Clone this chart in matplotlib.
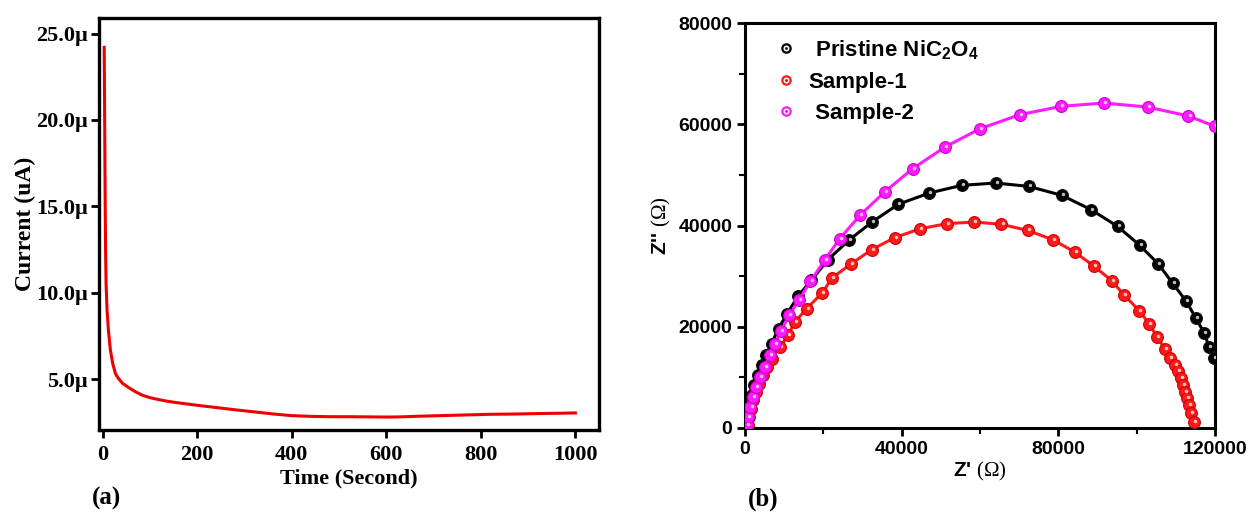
import matplotlib
matplotlib.use("Agg")
import matplotlib.pyplot as plt
from matplotlib.ticker import FuncFormatter, MultipleLocator
from matplotlib.lines import Line2D
from matplotlib.transforms import offset_copy

plt.rcParams['mathtext.fontset'] = 'custom'
plt.rcParams['mathtext.rm'] = 'Liberation Serif'
plt.rcParams['mathtext.sf'] = 'Liberation Sans:bold'
plt.rcParams['mathtext.bf'] = 'Liberation Sans:bold'

# ---------------- data: panel (a) chronoamperometry ----------------
time_s = [3, 4, 5, 6, 7, 9, 12, 16, 21, 27, 34, 42, 55, 70, 85, 100, 120, 140,
          160, 180, 200, 240, 280, 320, 360, 400, 440, 480, 520, 560, 600, 630,
          660, 700, 740, 780, 820, 860, 900, 940, 970, 1000]
current_uA = [24.2, 20.0, 15.5, 12.3, 10.5, 9.0, 7.8, 6.7, 5.9, 5.3, 5.0, 4.75,
              4.5, 4.25, 4.05, 3.92, 3.8, 3.7, 3.62, 3.55, 3.48, 3.35, 3.22, 3.1,
              2.98, 2.88, 2.84, 2.82, 2.82, 2.81, 2.80, 2.81, 2.84, 2.87, 2.9,
              2.93, 2.96, 2.97, 2.99, 3.01, 3.02, 3.04]
a_xticks = [0, 200, 400, 600, 800, 1000]
a_yticks = [5, 10, 15, 20, 25]

# ---------------- data: panel (b) Nyquist plots ----------------
pristine_re = [300, 600, 1090, 1690, 2390, 3280, 4280, 5370, 6770, 8560, 10750,
               13530, 16920, 21190, 26470, 32440, 39100, 47060, 55320, 63980,
               72430, 80890, 88350, 95120, 100790, 105530, 109200, 112600,
               115150, 117190, 118550, 119740]
pristine_im = [860, 2500, 4480, 6450, 8430, 10400, 12380, 14350, 16660, 19620,
               22580, 26010, 29170, 33250, 37070, 40690, 44180, 46420, 47930,
               48390, 47730, 45960, 43130, 39830, 36080, 32400, 28580, 25090,
               21660, 18830, 15940, 13770]

sample1_re = [700, 1000, 1490, 2090, 2790, 3580, 4580, 5570, 6770, 8960, 10950,
              12740, 15720, 19700, 22290, 27160, 32340, 38210, 44780, 51540,
              58510, 65470, 72140, 78600, 84180, 89150, 93620, 96770, 100680,
              103230, 105270, 107230, 108510, 109690, 110540, 111220, 111810,
              112410, 112840, 113350, 113960, 114640]
sample1_im = [530, 2170, 3820, 5460, 7110, 8760, 10400, 12050, 13700, 16000,
              18300, 20940, 23570, 26670, 29690, 32460, 35220, 37600, 39370,
              40360, 40690, 40230, 39040, 37200, 34760, 31930, 29100, 26270,
              23170, 20540, 17920, 15600, 13770, 12440, 11320, 9820, 8490, 7170,
              5870, 4540, 2900, 1240]

sample2_re = [400, 800, 1390, 1990, 2790, 3780, 4980, 6270, 7560, 9250, 11240,
              13830, 16720, 20300, 24180, 29350, 35620, 42790, 50940, 60000,
              70150, 80690, 91640, 102780, 113230, 120000]
sample2_im = [530, 2170, 4150, 6120, 8100, 10070, 12050, 14350, 16660, 19160,
              22250, 25350, 28970, 33120, 37400, 42000, 46610, 51220, 55440,
              59120, 61890, 63540, 64190, 63400, 61630, 59580]

series_labels = [r" Pristine NiC$_{\mathsf{2}}$O$_{\mathsf{4}}$", "Sample-1", " Sample-2"]
series_colors = ["black", "#ff1a1a", "#ff1aff"]
edge_colors = ["#111111", "#cc0000", "#cc00cc"]
b_xticks = [0, 40000, 80000, 120000]
b_yticks = [0, 20000, 40000, 60000, 80000]

W, H = 1249, 512
fig = plt.figure(figsize=(W / 100, H / 100), dpi=100)

# ---------------- panel (a) ----------------
axa = fig.add_axes([99 / W, 1 - 430 / H, 500 / W, 412 / H])
axa.plot(time_s, current_uA, color="#ee0000", lw=2.2, solid_joinstyle="round")
axa.set_xlim(-8, 1050)
axa.set_ylim(2.05, 25.9)
axa.set_xticks(a_xticks)
axa.set_yticks(a_yticks)
axa.yaxis.set_major_formatter(FuncFormatter(lambda v, p: f"{v:.1f}\u00b5"))
serif = "Liberation Serif"
for lab in axa.get_xticklabels() + axa.get_yticklabels():
    lab.set_fontfamily(serif)
    lab.set_fontweight("bold")
    lab.set_fontsize(16)
axa.tick_params(direction="out", length=6, width=2, pad=2)
axa.tick_params(axis="x", pad=5)
for s in axa.spines.values():
    s.set_linewidth(2.4)
axa.set_xlabel("Time (Second)", fontfamily=serif, fontweight="bold", fontsize=16, labelpad=2)
axa.set_ylabel("Current (uA)", fontfamily=serif, fontweight="bold", fontsize=17, labelpad=0)
fig.text(107 / W, 1 - 498 / H, "(a)", fontfamily=serif, fontweight="bold",
         fontsize=18, ha="center", va="center")

# ---------------- panel (b) ----------------
axb = fig.add_axes([745 / W, 1 - 428 / H, 470 / W, 405 / H])
sans = "Liberation Sans"
data_b = [(sample1_re, sample1_im, 1), (pristine_re, pristine_im, 0), (sample2_re, sample2_im, 2)]
for xs, ys, i in data_b:
    axb.plot(xs, ys, color=series_colors[i], lw=2.2, marker="o", ms=8.5,
             mfc=series_colors[i], mec=edge_colors[i], mew=0.8, zorder=3 + i, clip_on=True)
    hl = offset_copy(axb.transData, fig=fig, x=0.8, y=0.8, units="points")
    axb.plot(xs, ys, ls="none", marker="o", ms=2.5, mfc="white", mec="none",
             alpha=0.75, transform=hl, zorder=3.5 + i)
axb.set_xlim(0, 120000)
axb.set_ylim(0, 80000)
axb.set_xticks(b_xticks)
axb.set_yticks(b_yticks)
axb.xaxis.set_minor_locator(MultipleLocator(20000))
axb.yaxis.set_minor_locator(MultipleLocator(10000))
for lab in axb.get_xticklabels() + axb.get_yticklabels():
    lab.set_fontfamily(sans)
    lab.set_fontweight("bold")
    lab.set_fontsize(14)
axb.tick_params(which="major", direction="out", length=6, width=2, pad=3)
axb.tick_params(which="minor", direction="out", length=4, width=1.5)
for s in axb.spines.values():
    s.set_linewidth(2.2)
axb.set_xlabel(r"Z' $\mathrm{(\Omega)}$", fontfamily=sans, fontweight="bold", fontsize=15, labelpad=2)
axb.set_ylabel(r"Z'' $\mathrm{(\Omega)}$", fontfamily=sans, fontweight="bold", fontsize=15, labelpad=4)

handles = []
for i in range(3):
    ring = Line2D([], [], ls="none", marker="o", ms=6, mfc="#f4f4f4",
                  mec=series_colors[i], mew=1.6)
    dot = Line2D([], [], ls="none", marker="o", ms=2, mfc=edge_colors[i], mec="none")
    handles.append((ring, dot))
leg = axb.legend(handles, series_labels, loc="upper left", bbox_to_anchor=(0.022, 1.012),
                 frameon=False, handlelength=1.0, handletextpad=0.5, labelspacing=0.45,
                 prop={"family": sans, "weight": "bold", "size": 16})
fig.text(763 / W, 1 - 499 / H, "(b)", fontfamily=serif, fontweight="bold",
         fontsize=18, ha="center", va="center")

fig.savefig("out.png", dpi=100)
